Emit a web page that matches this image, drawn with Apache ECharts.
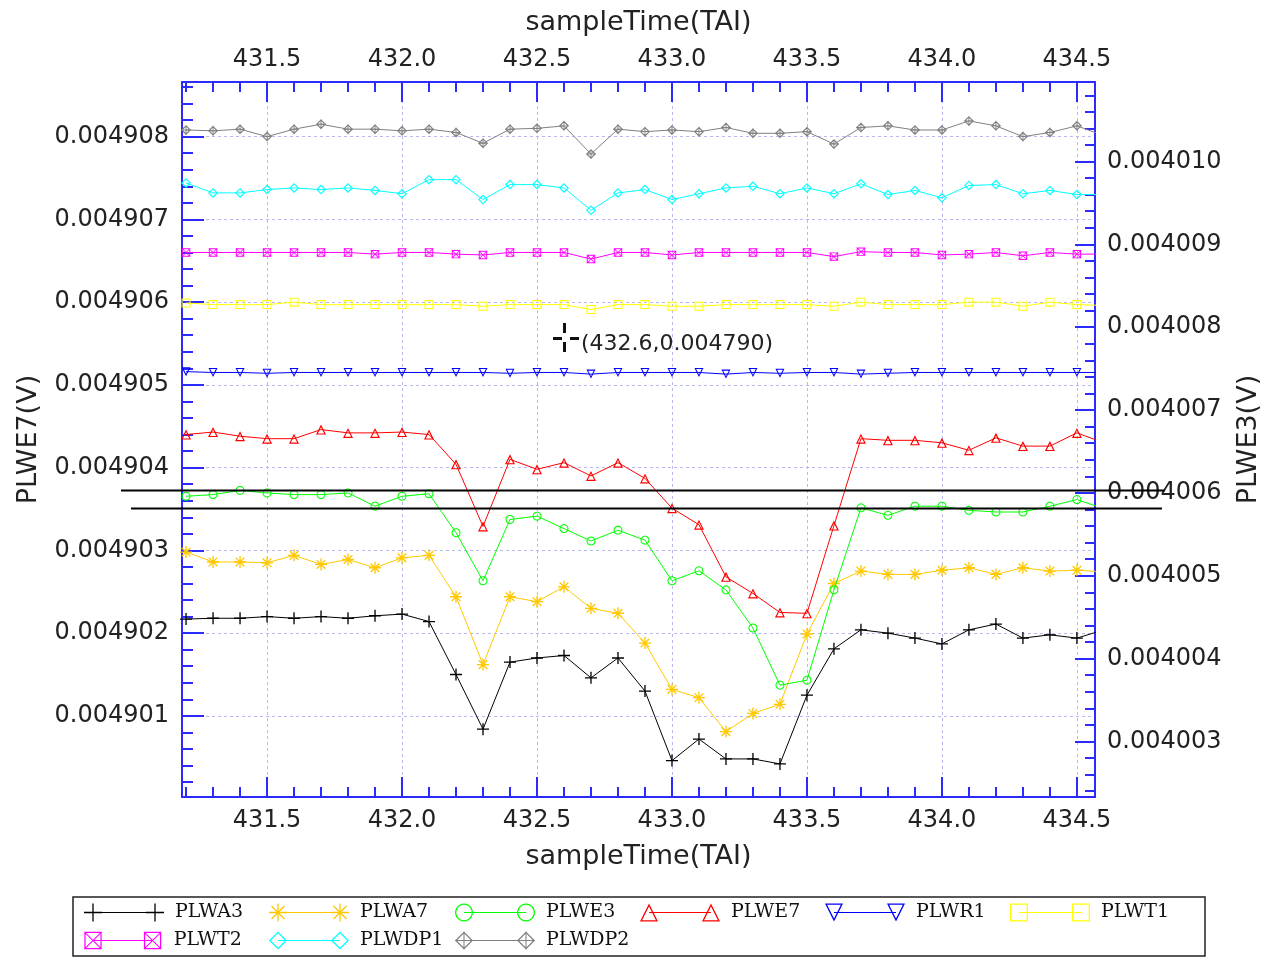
<!DOCTYPE html>
<html>
<head>
<meta charset="utf-8">
<script src="https://cdn.jsdelivr.net/npm/echarts@6/dist/echarts.min.js"></script>
<style>
html,body{margin:0;padding:0;background:#fff;}
#chart{width:1264px;height:958px;}
</style>
</head>
<body>
<div id="chart"></div>
<script>
// ---------------- data ----------------
const sampleTime = [431.2,431.3,431.4,431.5,431.6,431.7,431.8,431.9,432.0,432.1,432.2,432.3,432.4,432.5,432.6,432.7,432.8,432.9,433.0,433.1,433.2,433.3,433.4,433.5,433.6,433.7,433.8,433.9,434.0,434.1,434.2,434.3,434.4,434.5,434.6];
const PLWA3 = [0.00490217,0.00490218,0.00490218,0.00490220,0.00490218,0.00490220,0.00490218,0.00490221,0.00490223,0.00490214,0.00490150,0.00490084,0.00490165,0.00490170,0.00490173,0.00490146,0.00490170,0.00490130,0.00490046,0.00490072,0.00490048,0.00490048,0.00490042,0.00490125,0.00490181,0.00490204,0.00490200,0.00490194,0.00490187,0.00490204,0.00490211,0.00490194,0.00490198,0.00490194,0.00490204];
const PLWA7 = [0.00490298,0.00490286,0.00490286,0.00490285,0.00490294,0.00490283,0.00490289,0.00490279,0.00490291,0.00490294,0.00490244,0.00490162,0.00490244,0.00490238,0.00490256,0.00490230,0.00490224,0.00490188,0.00490132,0.00490122,0.00490081,0.00490103,0.00490114,0.00490199,0.00490260,0.00490275,0.00490271,0.00490271,0.00490276,0.00490279,0.00490271,0.00490279,0.00490275,0.00490276,0.00490274];
const PLWE3 = [0.00400596,0.00400598,0.00400603,0.00400600,0.00400598,0.00400598,0.00400600,0.00400584,0.00400596,0.00400599,0.00400552,0.00400494,0.00400568,0.00400572,0.00400557,0.00400542,0.00400555,0.00400543,0.00400494,0.00400506,0.00400483,0.00400437,0.00400368,0.00400374,0.00400483,0.00400582,0.00400573,0.00400584,0.00400584,0.00400579,0.00400577,0.00400577,0.00400584,0.00400592,0.00400581];
const PLWE7 = [0.00490440,0.00490443,0.00490438,0.00490435,0.00490435,0.00490446,0.00490442,0.00490442,0.00490443,0.00490440,0.00490404,0.00490329,0.00490410,0.00490398,0.00490406,0.00490390,0.00490406,0.00490387,0.00490351,0.00490331,0.00490268,0.00490248,0.00490225,0.00490224,0.00490330,0.00490435,0.00490433,0.00490433,0.00490430,0.00490421,0.00490436,0.00490426,0.00490426,0.00490442,0.00490430];
const PLWR1 = [0.00490516,0.00490515,0.00490515,0.00490514,0.00490515,0.00490515,0.00490515,0.00490515,0.00490515,0.00490515,0.00490515,0.00490515,0.00490514,0.00490515,0.00490515,0.00490513,0.00490515,0.00490515,0.00490515,0.00490515,0.00490513,0.00490515,0.00490514,0.00490515,0.00490515,0.00490513,0.00490514,0.00490515,0.00490515,0.00490515,0.00490515,0.00490515,0.00490515,0.00490515,0.00490515];
const PLWT1 = [0.00490599,0.00490597,0.00490597,0.00490597,0.00490600,0.00490597,0.00490597,0.00490597,0.00490597,0.00490597,0.00490597,0.00490595,0.00490597,0.00490597,0.00490597,0.00490591,0.00490597,0.00490597,0.00490595,0.00490595,0.00490597,0.00490597,0.00490597,0.00490597,0.00490595,0.00490600,0.00490597,0.00490597,0.00490597,0.00490600,0.00490600,0.00490595,0.00490600,0.00490597,0.00490596];
const PLWT2 = [0.00490660,0.00490660,0.00490660,0.00490660,0.00490660,0.00490660,0.00490660,0.00490658,0.00490660,0.00490660,0.00490658,0.00490657,0.00490660,0.00490660,0.00490660,0.00490652,0.00490660,0.00490660,0.00490657,0.00490660,0.00490660,0.00490660,0.00490660,0.00490660,0.00490655,0.00490661,0.00490660,0.00490660,0.00490657,0.00490658,0.00490660,0.00490656,0.00490660,0.00490658,0.00490658];
const PLWDP1 = [0.00490744,0.00490732,0.00490732,0.00490736,0.00490738,0.00490736,0.00490738,0.00490735,0.00490731,0.00490748,0.00490748,0.00490724,0.00490742,0.00490742,0.00490738,0.00490711,0.00490732,0.00490736,0.00490724,0.00490731,0.00490738,0.00490740,0.00490731,0.00490738,0.00490731,0.00490743,0.00490730,0.00490735,0.00490726,0.00490741,0.00490742,0.00490731,0.00490735,0.00490730,0.00490730];
const PLWDP2 = [0.00490808,0.00490807,0.00490809,0.00490800,0.00490809,0.00490815,0.00490809,0.00490809,0.00490807,0.00490809,0.00490805,0.00490792,0.00490809,0.00490810,0.00490813,0.00490779,0.00490809,0.00490806,0.00490808,0.00490806,0.00490811,0.00490804,0.00490804,0.00490806,0.00490791,0.00490811,0.00490813,0.00490808,0.00490808,0.00490819,0.00490813,0.00490800,0.00490805,0.00490813,0.00490801];

const seriesNames = ['PLWA3','PLWA7','PLWE3','PLWE7','PLWR1','PLWT1','PLWT2','PLWDP1','PLWDP2'];
const seriesValues = [PLWA3,PLWA7,PLWE3,PLWE7,PLWR1,PLWT1,PLWT2,PLWDP1,PLWDP2];

// axis ranges
const xMin = 431.185, xMax = 434.567;
const yLeftMin = 0.00490002, yLeftMax = 0.00490866;
const yRightMin = 0.00400233, yRightMax = 0.00401096;
const xAxisTitle = 'sampleTime(TAI)';
const yLeftTitle = 'PLWE7(V)';
const yRightTitle = 'PLWE3(V)';
const cursorText = '(432.6,0.004790)';

// ---------------- styles ----------------
const colors = ['#000000','#FFC800','#00FF00','#FF0000','#0000FF','#FFFF00','#FF00FF','#00FFFF','#808080'];
const shapes = ['plus','asterisk','circle','triUp','triDown','square','xsquare','diamond','diamondPlus'];
const yAxisIdx = [0,0,1,0,0,0,0,0,0];
const symSizes = [12,12,9,10,9,9,9,10,10];

// ---- path helpers for marker glyphs ----
function shoelace(p){let s=0;for(let i=0;i<p.length;i++){const a=p[i],b=p[(i+1)%p.length];s+=a[0]*b[1]-b[0]*a[1];}return s;}
function poly(p,positive){ if((shoelace(p)>0)!==positive){p=p.slice().reverse();} return 'M'+p.map(q=>q[0].toFixed(3)+','+q[1].toFixed(3)).join('L')+'Z'; }
function ring(p,c,r,t){const k=Math.max(0,(r-t)/r);const inner=p.map(q=>[c[0]+(q[0]-c[0])*k,c[1]+(q[1]-c[1])*k]);return poly(p,true)+poly(inner,false);}
function bar(x1,y1,x2,y2,t){const dx=x2-x1,dy=y2-y1,L=Math.hypot(dx,dy);const nx=-dy/L*t/2,ny=dx/L*t/2;return poly([[x1+nx,y1+ny],[x2+nx,y2+ny],[x2-nx,y2-ny],[x1-nx,y1-ny]],true);}
function triRing(p,t){
  const d=(a,b)=>Math.hypot(a[0]-b[0],a[1]-b[1]);
  const a=d(p[1],p[2]),b=d(p[0],p[2]),c=d(p[0],p[1]);
  const per=a+b+c; const cx=(a*p[0][0]+b*p[1][0]+c*p[2][0])/per, cy=(a*p[0][1]+b*p[1][1]+c*p[2][1])/per;
  const area=Math.abs(shoelace(p))/2; const r=area/(per/2);
  return ring(p,[cx,cy],r,t);
}
function glyph(shape,cx,cy,h,t){
  switch(shape){
    case 'plus': return bar(cx-h,cy,cx+h,cy,t)+bar(cx,cy-h,cx,cy+h,t);
    case 'asterisk': {const k=h*0.72;return bar(cx-h,cy,cx+h,cy,t)+bar(cx,cy-h,cx,cy+h,t)+bar(cx-k,cy-k,cx+k,cy+k,t)+bar(cx-k,cy+k,cx+k,cy-k,t);}
    case 'circle': {const N=24,p=[];for(let i=0;i<N;i++){const a=2*Math.PI*i/N;p.push([cx+h*Math.cos(a),cy+h*Math.sin(a)]);}return ring(p,[cx,cy],h*Math.cos(Math.PI/N),t);}
    case 'triUp': return triRing([[cx,cy-h],[cx+h,cy+h],[cx-h,cy+h]],t);
    case 'triDown': return triRing([[cx-h,cy-h],[cx+h,cy-h],[cx,cy+h]],t);
    case 'square': return ring([[cx-h,cy-h],[cx+h,cy-h],[cx+h,cy+h],[cx-h,cy+h]],[cx,cy],h,t);
    case 'xsquare': return ring([[cx-h,cy-h],[cx+h,cy-h],[cx+h,cy+h],[cx-h,cy+h]],[cx,cy],h,t)+bar(cx-h,cy-h,cx+h,cy+h,t*0.8)+bar(cx-h,cy+h,cx+h,cy-h,t*0.8);
    case 'diamond': return ring([[cx,cy-h],[cx+h,cy],[cx,cy+h],[cx-h,cy]],[cx,cy],h/Math.SQRT2,t);
    case 'diamondPlus': return ring([[cx,cy-h],[cx+h,cy],[cx,cy+h],[cx-h,cy]],[cx,cy],h/Math.SQRT2,t)+bar(cx-h,cy,cx+h,cy,t*0.8)+bar(cx,cy-h,cx,cy+h,t*0.8);
  }
}
function chartSymbol(shape){ return 'path://'+glyph(shape,5,5,5,shape==='plus'||shape==='asterisk'?1.1:1.15); }
function legendIcon(shape){ return 'path://'+bar(9,9,71,9,1.1)+glyph(shape,9,9,9,1.3)+glyph(shape,71,9,9,1.3); }

const axisBlue = '#2b2bff';
const gridDash = '#b9b9f2';
const tickFont = {fontFamily:'DejaVu Sans',fontSize:24,color:'#222'};
const nameFont = {fontFamily:'DejaVu Sans',fontSize:27,color:'#222'};

function xAxisCfg(pos){
  return {
    type:'value', position:pos, min:xMin, max:xMax, splitNumber:7,
    name:xAxisTitle, nameLocation:'middle', nameGap:pos==='top'?46:46, nameTextStyle:nameFont,
    axisLine:{show:true,onZero:false,lineStyle:{color:axisBlue,width:2}},
    axisTick:{show:true,inside:true,length:20,lineStyle:{color:axisBlue,width:2}},
    minorTick:{show:true,splitNumber:5,length:10,lineStyle:{color:axisBlue,width:2}},
    axisLabel:Object.assign({margin:pos==='top'?10:12,showMinLabel:false,showMaxLabel:false,formatter:v=>v.toFixed(1)},tickFont),
    splitLine:{show:pos==='bottom',showMinLine:false,showMaxLine:false,lineStyle:{color:gridDash,type:[3,3],width:1}},
    minorSplitLine:{show:false}
  };
}
function yAxisCfg(pos,mn,mx,title,grid){
  return {
    type:'value', position:pos, min:mn, max:mx, splitNumber:9,
    name:title, nameLocation:'middle', nameRotate:90, nameGap:140, nameTextStyle:nameFont,
    axisLine:{show:true,onZero:false,lineStyle:{color:axisBlue,width:2}},
    axisTick:{show:true,inside:true,length:pos==='left'?22:20,lineStyle:{color:axisBlue,width:2}},
    minorTick:{show:true,splitNumber:5,length:pos==='left'?11:10,lineStyle:{color:axisBlue,width:2}},
    axisLabel:Object.assign({margin:pos==='left'?13:12,padding:[5,0,0,0],showMinLabel:false,showMaxLabel:false,formatter:v=>v.toFixed(6)},tickFont),
    splitLine:{show:grid,showMinLine:false,showMaxLine:false,lineStyle:{color:gridDash,type:[3,3],width:1}}
  };
}

const series = seriesNames.map((name,i)=>({
  name, type:'line', xAxisIndex:0, yAxisIndex:yAxisIdx[i],
  data: sampleTime.map((t,j)=>[t,seriesValues[i][j]]),
  symbol: chartSymbol(shapes[i]), symbolSize: symSizes[i], showSymbol:true, showAllSymbol:true,
  lineStyle:{color:colors[i],width:1},
  itemStyle:{color:colors[i],borderWidth:0},
  emphasis:{disabled:true}, clip:true, z:2+i
}));

const colX = [84,269,455,640,825,1010];
const rowY = [903,931];
const legends = seriesNames.map((name,i)=>({
  data:[{name, icon:legendIcon(shapes[i])}],
  left: colX[i%6], top: rowY[Math.floor(i/6)],
  orient:'horizontal', padding:0, itemWidth:80, itemHeight:18, selectedMode:false,
  itemStyle:{color:colors[i],borderWidth:0},
  textStyle:{fontFamily:'DejaVu Serif',fontSize:19,color:'#111',padding:[0,0,0,6]}
}));

const chart = echarts.init(document.getElementById('chart'),null,{renderer:'canvas'});
chart.setOption({
  animation:false,
  backgroundColor:'#fff',
  grid:{left:182,top:82,width:913,height:715,containLabel:false,outerBoundsMode:'none'},
  xAxis:[xAxisCfg('bottom'),xAxisCfg('top')],
  yAxis:[yAxisCfg('left',yLeftMin,yLeftMax,yLeftTitle,true),yAxisCfg('right',yRightMin,yRightMax,yRightTitle,false)],
  legend:legends,
  series:series,
  graphic:[
    {type:'rect',z:100,shape:{x:73,y:897,width:1132,height:59},style:{fill:'none',stroke:'#222',lineWidth:1.5}},
    {type:'rect',z:100,shape:{x:563,y:323,width:3,height:10},style:{fill:'#111'}},
    {type:'rect',z:100,shape:{x:563,y:342,width:3,height:10},style:{fill:'#111'}},
    {type:'rect',z:100,shape:{x:553,y:337,width:9,height:3},style:{fill:'#111'}},
    {type:'rect',z:100,shape:{x:570,y:337,width:9,height:3},style:{fill:'#111'}},
    {type:'text',z:100,x:581,y:344,style:{text:cursorText,fontFamily:'DejaVu Sans',fontSize:22,fill:'#222',verticalAlign:'middle',align:'left'}},
    {type:'line',z:100,shape:{x1:121,y1:490.5,x2:1165,y2:490.5},style:{stroke:'#000',lineWidth:2}},
    {type:'line',z:100,shape:{x1:131,y1:508.5,x2:1162,y2:508.5},style:{stroke:'#000',lineWidth:2}}
  ]
});
</script>
</body>
</html>
